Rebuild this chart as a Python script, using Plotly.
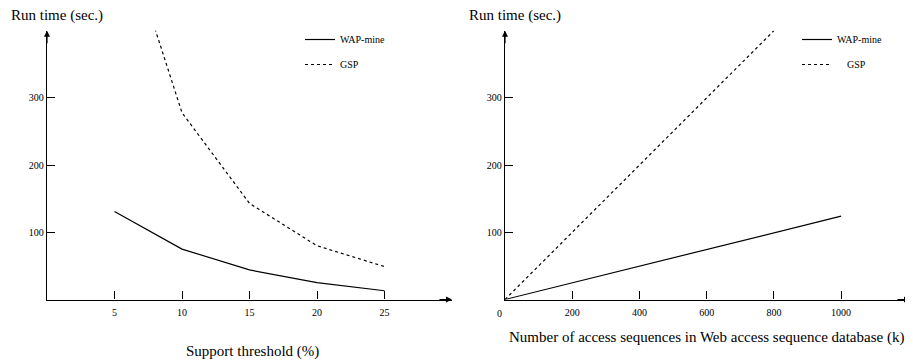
import plotly.graph_objects as go

# ---- data ----
support = [5, 10, 15, 20, 25]
wap_support = [131, 75, 44, 25, 13]
gsp_support = [590, 278, 143, 80, 49]

sizes = [0, 200, 400, 600, 800, 1000]
wap_size = [0, 25, 50, 75, 100, 124]
sizes_gsp = [0, 200, 400, 600, 800]
gsp_size = [0, 100, 200, 300, 400]

y_ticks = [100, 200, 300]
left_x_ticks = [5, 10, 15, 20, 25]
right_x_ticks = [200, 400, 600, 800, 1000]

FONT = "Liberation Serif"
OFF = 8                      # page body margin
W, H = 913 - OFF, 360 - OFF


def px(x):
    return (x - OFF) / W


def py(y):
    return 1 - (y - OFF) / H


fig = go.Figure()

line_solid = dict(color="black", width=1.2)
line_dash = dict(color="black", width=1.2, dash="3px,3px")
NB = "\u00a0"

fig.add_trace(go.Scatter(x=support, y=wap_support, mode="lines", name="WAP-mine",
                         line=line_solid, xaxis="x", yaxis="y", legend="legend",
                         legendgroup="a"))
fig.add_trace(go.Scatter(x=support, y=gsp_support, mode="lines", name="GSP",
                         line=line_dash, xaxis="x", yaxis="y", legend="legend",
                         legendgroup="b"))
fig.add_trace(go.Scatter(x=sizes, y=wap_size, mode="lines", name="WAP-mine",
                         line=line_solid, xaxis="x2", yaxis="y2", legend="legend2",
                         legendgroup="c"))
fig.add_trace(go.Scatter(x=sizes_gsp, y=gsp_size, mode="lines", name=NB * 4 + "GSP",
                         line=line_dash, xaxis="x2", yaxis="y2", legend="legend2",
                         legendgroup="d"))

y_dom = [py(299.5), py(30.7)]
common_axis = dict(showgrid=False, zeroline=False, showline=True, linecolor="black",
                   linewidth=1.3, ticks="inside", ticklen=8, tickwidth=1.3,
                   tickcolor="black", tickfont=dict(family=FONT, size=10, color="black"))

fig.update_layout(
    width=W, height=H,
    margin=dict(l=0, r=0, t=0, b=0),
    paper_bgcolor="white", plot_bgcolor="white",
    font=dict(family=FONT, color="black"),
    xaxis=dict(domain=[px(47), px(452)], range=[0, 30], tickvals=left_x_ticks,
               anchor="y", ticklabelstandoff=3, **common_axis),
    yaxis=dict(domain=y_dom, range=[0, 400], tickvals=y_ticks, anchor="x",
               **common_axis),
    xaxis2=dict(domain=[px(505), px(910)], range=[0, 1205], tickvals=right_x_ticks,
                anchor="y2", ticklabelstandoff=3, **common_axis),
    yaxis2=dict(domain=y_dom, range=[0, 400], tickvals=y_ticks, anchor="x2",
                **common_axis),
    legend=dict(x=px(300), y=py(25), xanchor="left", yanchor="top",
                bgcolor="rgba(0,0,0,0)", font=dict(family=FONT, size=10),
                tracegroupgap=6),
    legend2=dict(x=px(797), y=py(25), xanchor="left", yanchor="top",
                 bgcolor="rgba(0,0,0,0)", font=dict(family=FONT, size=10),
                 tracegroupgap=6),
)

ann = []
# axis arrows
for xr, yr in (("x", "y"), ("x2", "y2")):
    ann.append(dict(x=0, y=1, xref=xr, yref=yr + " domain", ax=0, ay=14,
                    text="", showarrow=True, arrowhead=2, arrowsize=1,
                    arrowwidth=1.2, arrowcolor="black", standoff=0))
    ann.append(dict(x=1, y=0, xref=xr + " domain", yref=yr, ax=-14, ay=0,
                    text="", showarrow=True, arrowhead=2, arrowsize=1,
                    arrowwidth=1.2, arrowcolor="black", standoff=0))
# "0" label at the right origin
ann.append(dict(x=0, y=0, xref="x2", yref="y2", text="0", showarrow=False,
                xshift=-6, yshift=-14, font=dict(family=FONT, size=10)))
# axis titles
title_font = dict(family=FONT, size=15, color="black")
ann.append(dict(x=px(9), y=py(15), xref="paper", yref="paper", xanchor="left",
                yanchor="middle", text="Run time (sec.)", showarrow=False,
                font=title_font))
ann.append(dict(x=px(467), y=py(15), xref="paper", yref="paper", xanchor="left",
                yanchor="middle", text="Run time (sec.)", showarrow=False,
                font=title_font))
ann.append(dict(x=px(252), y=py(351), xref="paper", yref="paper", xanchor="center",
                yanchor="middle", text="Support threshold (%)", showarrow=False,
                font=title_font))
ann.append(dict(x=px(706), y=py(337), xref="paper", yref="paper", xanchor="center",
                yanchor="middle",
                text="Number of access sequences in Web access sequence database (k)",
                showarrow=False, font=title_font))
fig.update_layout(annotations=ann)

fig.write_html("out.html")
